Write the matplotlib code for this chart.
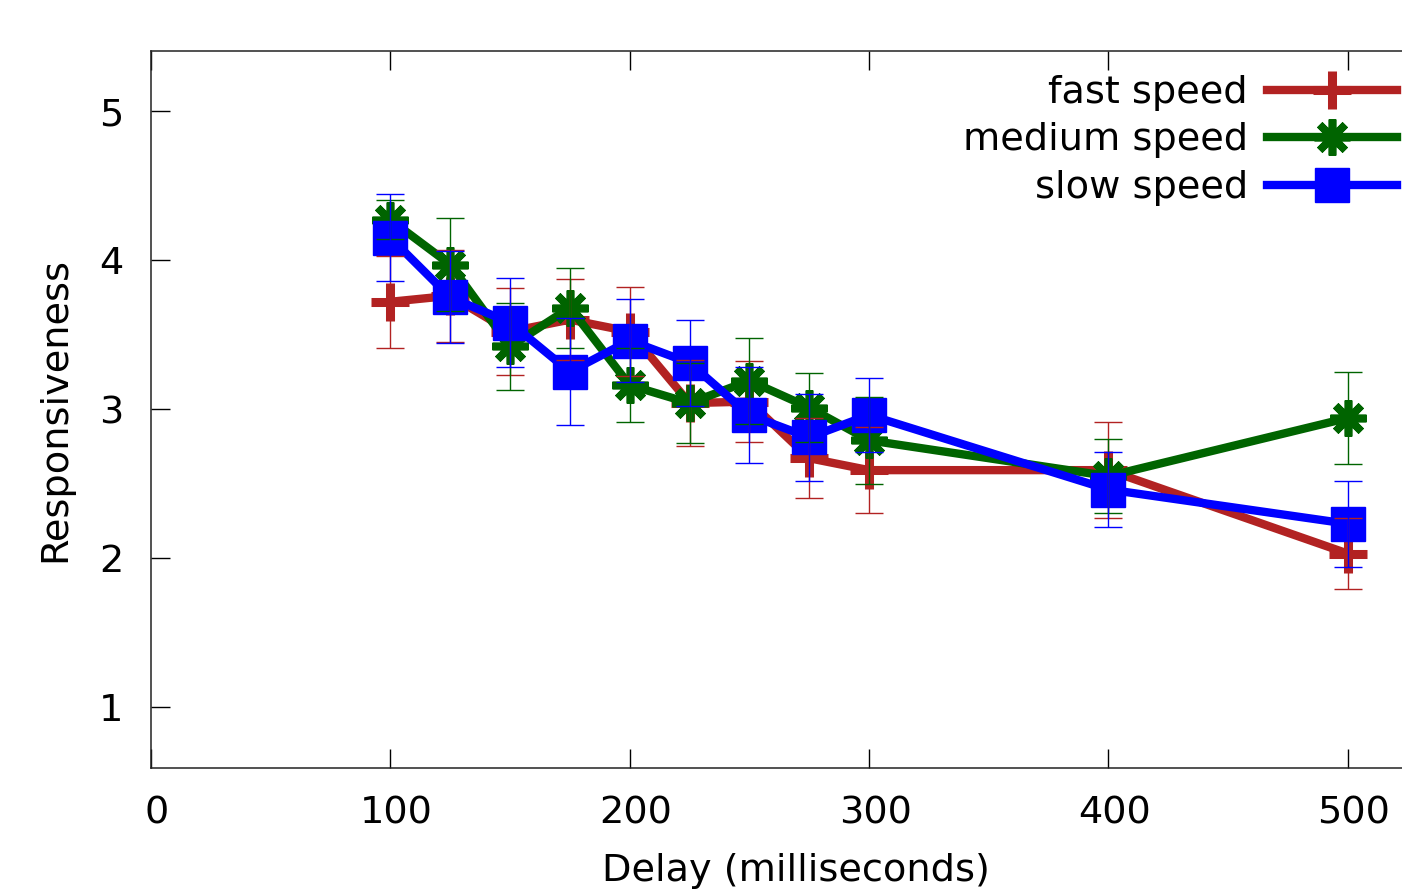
import numpy as np
import matplotlib
matplotlib.use('Agg')
import matplotlib.pyplot as plt
from matplotlib.transforms import ScaledTranslation

# Data
delay = [100, 125, 150, 175, 200, 225, 250, 275, 300, 400, 500]

fast_mean = [3.72, 3.76, 3.52, 3.60, 3.52, 3.04, 3.05, 2.67, 2.59, 2.59, 2.03]
fast_err = [0.31, 0.31, 0.29, 0.27, 0.30, 0.29, 0.27, 0.27, 0.29, 0.32, 0.24]

medium_mean = [4.27, 3.97, 3.42, 3.68, 3.16, 3.04, 3.19, 3.01, 2.79, 2.55, 2.94]
medium_err = [0.13, 0.31, 0.29, 0.27, 0.25, 0.27, 0.29, 0.23, 0.29, 0.25, 0.31]

slow_mean = [4.15, 3.75, 3.58, 3.25, 3.46, 3.31, 2.96, 2.81, 2.96, 2.46, 2.23]
slow_err = [0.29, 0.31, 0.30, 0.36, 0.28, 0.29, 0.32, 0.29, 0.25, 0.25, 0.29]

labels = ['fast speed', 'medium speed', 'slow speed']
colors = ['#b22222', '#006400', '#0000ff']
markers = ['+', (8, 2, 0), 's']
msizes = [27, 26, 24]
mews = [6.5, 5.5, 1]

FS = 27.5
plt.rcParams['font.family'] = ['DejaVu Sans']

W, H = 1402, 892
fig = plt.figure(figsize=(W / 100, H / 100), dpi=100)
# axes box in pixels: left 151, right ~1410 (cut off), top 51, bottom 768
ax = fig.add_axes([151 / W, (H - 768) / H, (1410 - 151) / W, (768 - 51) / H])

series = [(fast_mean, fast_err), (medium_mean, medium_err), (slow_mean, slow_err)]
for i, ((m, e), lab, c, mk, ms, mw) in enumerate(zip(series, labels, colors, markers, msizes, mews)):
    ax.plot(delay, m, color=c, lw=6, marker=mk, markersize=ms,
            markeredgewidth=mw, markeredgecolor=c,
            markerfacecolor=c, label=lab, zorder=2 + i)
for i, ((m, e), c) in enumerate(zip(series, colors)):
    ax.errorbar(delay, m, yerr=e, fmt='none', ecolor=c, elinewidth=1.0,
                capsize=10, capthick=1.0, zorder=6 + i)

ax.set_xlim(0, 526)
ax.set_ylim(0.591, 5.403)
ax.set_xticks([0, 100, 200, 300, 400, 500])
ax.set_yticks([1, 2, 3, 4, 5])
ax.tick_params(axis='x', direction='in', length=14, width=1, top=True,
               labelsize=FS, pad=20)
ax.tick_params(axis='y', direction='in', length=14, width=1, right=False,
               labelsize=FS, pad=20)
# tick labels sit a few pixels right of their ticks in the reference
shift = ScaledTranslation(6 / 100, 0, fig.dpi_scale_trans)
for lab in ax.get_xticklabels():
    lab.set_transform(lab.get_transform() + shift)
for s in ax.spines.values():
    s.set_linewidth(1.1)
    s.set_color('#222222')

ax.set_ylabel('Responsiveness', fontsize=FS)
ax.yaxis.set_label_coords(55 / W, 0.5 * (892 - 768 + 892 - 51) / H, transform=fig.transFigure)
ax.yaxis.label.set_verticalalignment('center')
fig.text(796 / W, 3 / H, 'Delay (milliseconds)', fontsize=FS,
         ha='center', va='bottom')

ax.legend(loc='upper right', bbox_to_anchor=(1397 / W, (H - 75) / H),
          bbox_transform=fig.transFigure, frameon=False, markerfirst=False,
          fontsize=FS, handlelength=3.4, handletextpad=0.5,
          labelspacing=0.3, borderaxespad=0, borderpad=0)

fig.savefig('out.png', dpi=100)
